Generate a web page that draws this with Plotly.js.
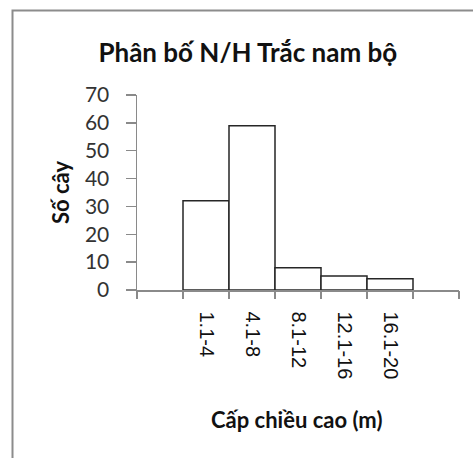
<!DOCTYPE html>
<html>
<head>
<meta charset="utf-8">
<script src="https://cdn.plot.ly/plotly-3.0.1.min.js"></script>
<style>
  html, body { margin: 0; padding: 0; background: #fff; }
  #chart { width: 473px; height: 458px; }
</style>
</head>
<body>
<div id="chart"></div>
<script>
// Data
const categories = ["1.1-4", "4.1-8", "8.1-12", "12.1-16", "16.1-20"];
const counts = [32, 59, 8, 5, 4];
const chartTitle = "Phân bố N/H Trắc nam bộ";
const xTitle = "Cấp chiều cao (m)";
const yTitle = "Số cây";

// one empty slot on each side of the classes, like the original
const positions = categories.map((_, i) => i + 1);
const xMin = -0.5;
const xMax = categories.length + 1.5;
const boundaries = [];
for (let b = xMin; b <= xMax + 1e-9; b += 1) boundaries.push(b);

const trace = {
  type: "bar",
  x: positions,
  y: counts,
  marker: { color: "#ffffff", line: { color: "#262626", width: 1.5 } },
  hoverinfo: "skip"
};

const axisGray = "#8a8a8a";

const layout = {
  width: 473,
  height: 458,
  margin: { l: 137, r: 14, t: 95, b: 168, pad: 0 },
  paper_bgcolor: "#ffffff",
  plot_bgcolor: "#ffffff",
  showlegend: false,
  bargap: 0,
  title: {
    text: chartTitle,
    font: { family: "Lato", size: 26, color: "#111", weight: "bold" },
    x: 0.524, xanchor: "center", xref: "container",
    y: 1 - 53 / 458, yanchor: "middle", yref: "container"
  },
  xaxis: {
    type: "linear",
    range: [xMin, xMax],
    tickmode: "array",
    tickvals: positions,
    ticktext: categories,
    ticks: "",
    tickangle: 90,
    ticklabelstandoff: 16,
    tickfont: { family: "Liberation Sans", size: 20, color: "#111" },
    showgrid: false,
    zeroline: false,
    showline: true,
    linecolor: axisGray,
    linewidth: 1.5,
    fixedrange: true
  },
  xaxis2: {
    type: "linear",
    overlaying: "x",
    anchor: "y",
    side: "bottom",
    range: [xMin, xMax],
    tickmode: "array",
    tickvals: boundaries,
    ticks: "outside",
    ticklen: 8,
    tickcolor: axisGray,
    tickwidth: 1.5,
    showticklabels: false,
    showgrid: false,
    zeroline: false,
    showline: false,
    fixedrange: true
  },
  yaxis: {
    range: [0, 70],
    dtick: 10,
    ticks: "outside",
    ticklen: 10,
    tickcolor: axisGray,
    tickwidth: 1.5,
    ticklabelstandoff: 12,
    tickfont: { family: "Lato", size: 21, color: "#333" },
    showgrid: false,
    zeroline: false,
    showline: true,
    linecolor: axisGray,
    linewidth: 1.5,
    fixedrange: true
  },
  annotations: [
    {
      text: yTitle, textangle: -90,
      xref: "paper", yref: "paper",
      x: (60 - 137) / 322, y: (290 - 193) / 195,
      xanchor: "center", yanchor: "middle", showarrow: false,
      font: { family: "Lato", size: 22, color: "#111", weight: "bold" }
    },
    {
      text: xTitle,
      xref: "paper", yref: "paper",
      x: (296 - 137) / 322, y: (290 - 419) / 195,
      xanchor: "center", yanchor: "middle", showarrow: false,
      font: { family: "Lato", size: 22, color: "#111", weight: "bold" }
    }
  ],
  shapes: [
    {
      type: "rect", xref: "paper", yref: "paper",
      x0: (12.5 - 137) / 322, x1: (490 - 137) / 322,
      y0: (290 - 480) / 195, y1: (290 - 10.5) / 195,
      line: { color: "#8c8c8c", width: 2 },
      fillcolor: "rgba(0,0,0,0)",
      layer: "below"
    }
  ]
};

// the empty helper trace attaches the boundary-tick axis
const tickHolder = { type: "scatter", x: [], y: [], xaxis: "x2", yaxis: "y", hoverinfo: "skip", showlegend: false };

Plotly.newPlot("chart", [trace, tickHolder], layout, { displayModeBar: false, staticPlot: true });
</script>
</body>
</html>
